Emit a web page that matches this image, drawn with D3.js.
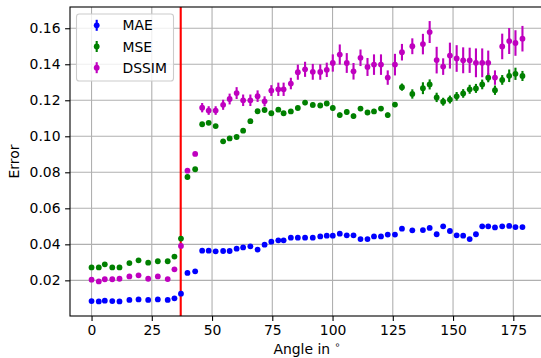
<!DOCTYPE html>
<html>
<head>
<meta charset="utf-8">
<script src="https://cdn.jsdelivr.net/npm/d3@7"></script>
<style>
  html, body { margin: 0; padding: 0; background: #fff; }
  svg { display: block; font-family: "DejaVu Sans", sans-serif; }
  .grid line { stroke: #b0b0b0; stroke-width: 1.1; }
</style>
</head>
<body>
<figure id="chart" style="margin:0"></figure>
<script>
// angles (degrees) of each measurement
const angles = [0, 3.0, 5.5, 8.6, 11.6, 15.7, 19.5, 23.5, 27.5, 31.6, 34.4, 37.1, 39.8, 43.0,
  45.9, 48.6, 51.5, 54.6, 57.3, 60.2, 62.9, 65.9, 68.9, 71.8, 74.6, 77.5, 79.7, 82.7,
  85.6, 88.6, 91.8, 94.9, 97.6, 100.1, 103.0, 105.9, 108.7, 111.6, 114.5, 117.2, 120.1, 122.9,
  125.9, 128.8, 133.1, 137.5, 140.3, 143.2, 145.9, 148.7, 151.5, 154.2, 156.9, 159.5, 162.1,
  164.6, 167.4, 170.4, 173.3, 175.9, 178.8];

const mae = [0.0085, 0.0083, 0.0087, 0.0085, 0.0083, 0.0091, 0.0094, 0.0091, 0.0094, 0.0091, 0.0100, 0.0126,
  0.0241, 0.0250,
  0.0365, 0.0365, 0.0361, 0.0363, 0.0363, 0.0376, 0.0383, 0.0389, 0.0371, 0.0398, 0.0415, 0.0422, 0.0422, 0.0437,
  0.0437, 0.0437, 0.0437, 0.0444, 0.0448, 0.0448, 0.0459, 0.0450, 0.0450, 0.0429, 0.0429, 0.0444, 0.0444, 0.0454, 0.0454, 0.0487,
  0.0478, 0.0479, 0.0491, 0.0456, 0.0500, 0.0474, 0.0450, 0.0448, 0.0429, 0.0456, 0.0500, 0.0500, 0.0494, 0.0500, 0.0502, 0.0496, 0.0496];
const maeErr = angles.map(() => 0.0003);

const mse = [0.0272, 0.0272, 0.0289, 0.0272, 0.0272, 0.0296, 0.0311, 0.0298, 0.0306, 0.0306, 0.0332, 0.0432,
  0.0774, 0.0817,
  0.1067, 0.1075, 0.1057, 0.0972, 0.0988, 0.0996, 0.1031, 0.1084, 0.1139, 0.1146, 0.1128, 0.1148, 0.1128, 0.1138,
  0.1157, 0.1187, 0.1174, 0.1171, 0.1182, 0.1157, 0.1118, 0.1135, 0.1112, 0.1154, 0.1132, 0.1138, 0.1154, 0.1118, 0.1176,
  0.1273, 0.1235, 0.1267, 0.1288, 0.1216, 0.1192, 0.1204, 0.1222, 0.1238, 0.1261, 0.1266, 0.1288, 0.1325, 0.1256,
  0.1313, 0.1336, 0.1347, 0.1335];
const mseErr = [0.0006, 0.0006, 0.0006, 0.0006, 0.0006, 0.0006, 0.0006, 0.0006, 0.0006, 0.0006, 0.0006, 0.0006,
  0.0006, 0.0006,
  0.0010, 0.0010, 0.0010, 0.0010, 0.0010, 0.0010, 0.0010, 0.0010, 0.0010, 0.0010, 0.0010, 0.0010, 0.0010, 0.0010,
  0.0010, 0.0014, 0.0014, 0.0014, 0.0014, 0.0014, 0.0014, 0.0014, 0.0014, 0.0014, 0.0014, 0.0014, 0.0014, 0.0014, 0.0014,
  0.0020, 0.0026, 0.0033, 0.0028, 0.0026, 0.0022, 0.0022, 0.0024, 0.0024, 0.0025, 0.0025, 0.0027, 0.0025, 0.0026,
  0.0027, 0.0035, 0.0034, 0.0028];

const dssim = [0.0204, 0.0194, 0.0206, 0.0206, 0.0209, 0.0222, 0.0228, 0.0209, 0.0222, 0.0207, 0.0261, 0.0391,
  0.0809, 0.0902,
  0.1159, 0.1143, 0.1143, 0.1175, 0.1207, 0.1240, 0.1200, 0.1200, 0.1223, 0.1194, 0.1254, 0.1261, 0.1261, 0.1293,
  0.1356, 0.1372, 0.1358, 0.1357, 0.1369, 0.1407, 0.1454, 0.1407, 0.1361, 0.1436, 0.1385, 0.1398, 0.1398, 0.1326, 0.1398,
  0.1467, 0.1500, 0.1512, 0.1579, 0.1423, 0.1387, 0.1448, 0.1432, 0.1422, 0.1422, 0.1408, 0.1408, 0.1408, 0.1326,
  0.1499, 0.1529, 0.1518, 0.1542];
const dssimErr = [0.0006, 0.0006, 0.0006, 0.0006, 0.0006, 0.0006, 0.0006, 0.0006, 0.0006, 0.0006, 0.0008, 0.0008,
  0.0006, 0.0006,
  0.0026, 0.0024, 0.0024, 0.0028, 0.0030, 0.0033, 0.0032, 0.0032, 0.0032, 0.0028, 0.0030, 0.0037, 0.0037, 0.0032,
  0.0042, 0.0042, 0.0044, 0.0043, 0.0040, 0.0048, 0.0056, 0.0055, 0.0046, 0.0046, 0.0050, 0.0057, 0.0057, 0.0040, 0.0060,
  0.0046, 0.0044, 0.0057, 0.0061, 0.0074, 0.0046, 0.0072, 0.0074, 0.0072, 0.0070, 0.0080, 0.0080, 0.0068, 0.0040,
  0.0071, 0.0072, 0.0071, 0.0071];

const seriesNames = ["MAE", "MSE", "DSSIM"];
const seriesColors = ["#0000ff", "#008000", "#bf00bf"];
const seriesValues = [mae, mse, dssim];
const seriesErrors = [maeErr, mseErr, dssimErr];

const xTicks = [0, 25, 50, 75, 100, 125, 150, 175];
const yTicks = [0.02, 0.04, 0.06, 0.08, 0.10, 0.12, 0.14, 0.16];
const cutAngle = 37;

const xLabel = "Angle in ";
const yLabel = "Error";

var width = 541;
var height = 358;
var plotLeft = 70, plotRight = 544, plotTop = 7, plotBottom = 316;

// matplotlib-like autoscale with 5% margins
function padded(lo, hi) {
  const m = (hi - lo) * 0.05;
  return [lo - m, hi + m];
}

const xExt = d3.extent(angles);
let yLo = Infinity, yHi = -Infinity;
seriesValues.forEach((vals, s) => vals.forEach((v, i) => {
  yLo = Math.min(yLo, v - seriesErrors[s][i]);
  yHi = Math.max(yHi, v + seriesErrors[s][i]);
}));

const x = d3.scaleLinear().domain(padded(xExt[0], xExt[1])).range([plotLeft, plotRight]);
const y = d3.scaleLinear().domain(padded(yLo, yHi)).range([plotBottom, plotTop]);

const svg = d3.select("figure#chart")
  .append("svg")
  .attr("width", width)
  .attr("height", height)
  .attr("viewBox", "0 0 " + width + " " + height);

svg.append("defs").append("clipPath").attr("id", "plotclip")
  .append("rect")
  .attr("x", plotLeft).attr("y", plotTop)
  .attr("width", plotRight - plotLeft).attr("height", plotBottom - plotTop);

// grid
const grid = svg.append("g").attr("class", "grid");
grid.selectAll("line.gx")
  .data(xTicks)
  .join("line")
  .attr("class", "gx")
  .attr("x1", d => x(d)).attr("x2", d => x(d))
  .attr("y1", plotTop).attr("y2", plotBottom);
grid.selectAll("line.gy")
  .data(yTicks)
  .join("line")
  .attr("class", "gy")
  .attr("x1", plotLeft).attr("x2", plotRight)
  .attr("y1", d => y(d)).attr("y2", d => y(d));

const plot = svg.append("g").attr("clip-path", "url(#plotclip)");

// vertical marker line
plot.append("line")
  .attr("x1", x(cutAngle)).attr("x2", x(cutAngle))
  .attr("y1", plotTop).attr("y2", plotBottom)
  .attr("stroke", "#ff0000")
  .attr("stroke-width", 2.1);

// errorbar series
seriesValues.forEach((vals, s) => {
  const pts = vals.map((v, i) => ({ a: angles[i], v: v, e: seriesErrors[s][i] }));
  const g = plot.append("g").attr("class", "series");
  g.selectAll("line")
    .data(pts)
    .join("line")
    .attr("x1", d => x(d.a)).attr("x2", d => x(d.a))
    .attr("y1", d => y(d.v - d.e)).attr("y2", d => y(d.v + d.e))
    .attr("stroke", seriesColors[s])
    .attr("stroke-width", 2.1);
  g.selectAll("circle")
    .data(pts)
    .join("circle")
    .attr("cx", d => x(d.a))
    .attr("cy", d => y(d.v))
    .attr("r", 2.9)
    .attr("fill", seriesColors[s]);
});

// axes
const xAxis = svg.append("g")
  .attr("transform", "translate(0," + plotBottom + ")")
  .call(d3.axisBottom(x).tickValues(xTicks).tickFormat(d3.format("d")).tickSizeOuter(0).tickSize(4.9).tickPadding(4.2));
const yAxis = svg.append("g")
  .attr("transform", "translate(" + plotLeft + ",0)")
  .call(d3.axisLeft(y).tickValues(yTicks).tickFormat(d3.format(".2f")).tickSizeOuter(0).tickSize(4.9).tickPadding(4.6));

[xAxis, yAxis].forEach(ax => {
  ax.select(".domain").remove();
  ax.selectAll(".tick line").attr("stroke", "#000").attr("stroke-width", 1.1);
  ax.selectAll(".tick text").attr("font-size", "13.9px").attr("fill", "#000")
    .attr("font-family", "DejaVu Sans");
});

// spines (right one falls outside the picture)
svg.append("rect")
  .attr("x", plotLeft).attr("y", plotTop)
  .attr("width", plotRight - plotLeft).attr("height", plotBottom - plotTop)
  .attr("fill", "none")
  .attr("stroke", "#000")
  .attr("stroke-width", 1.1);

// axis labels
const xl = svg.append("text")
  .attr("x", (plotLeft + plotRight) / 2)
  .attr("y", 354)
  .attr("text-anchor", "middle")
  .attr("font-size", "13.9px")
  .text(xLabel);
xl.append("tspan")
  .attr("font-size", "9.7px")
  .attr("dy", "-6")
  .text("\u2218");

svg.append("text")
  .attr("transform", "translate(19," + ((plotTop + plotBottom) / 2) + ") rotate(-90)")
  .attr("text-anchor", "middle")
  .attr("font-size", "13.9px")
  .text(yLabel);

// legend
const legend = svg.append("g").attr("class", "legend");
legend.append("rect")
  .attr("x", 76.5).attr("y", 14)
  .attr("width", 97).attr("height", 67)
  .attr("rx", 2.8).attr("ry", 2.8)
  .attr("fill", "#fff").attr("fill-opacity", 0.8)
  .attr("stroke", "#cccccc").attr("stroke-width", 1.1);

const rows = legend.selectAll("g.row")
  .data(seriesNames)
  .join("g")
  .attr("class", "row")
  .attr("transform", (d, i) => "translate(0," + (25.3 + i * 21.2) + ")");
rows.append("line")
  .attr("x1", 96.7).attr("x2", 96.7)
  .attr("y1", -5.5).attr("y2", 5.5)
  .attr("stroke", (d, i) => seriesColors[i])
  .attr("stroke-width", 2.1);
rows.append("circle")
  .attr("cx", 96.7).attr("cy", 0).attr("r", 2.9)
  .attr("fill", (d, i) => seriesColors[i]);
rows.append("text")
  .attr("x", 122.5).attr("y", 5)
  .attr("font-size", "13.9px")
  .text(d => d);
</script>
</body>
</html>
